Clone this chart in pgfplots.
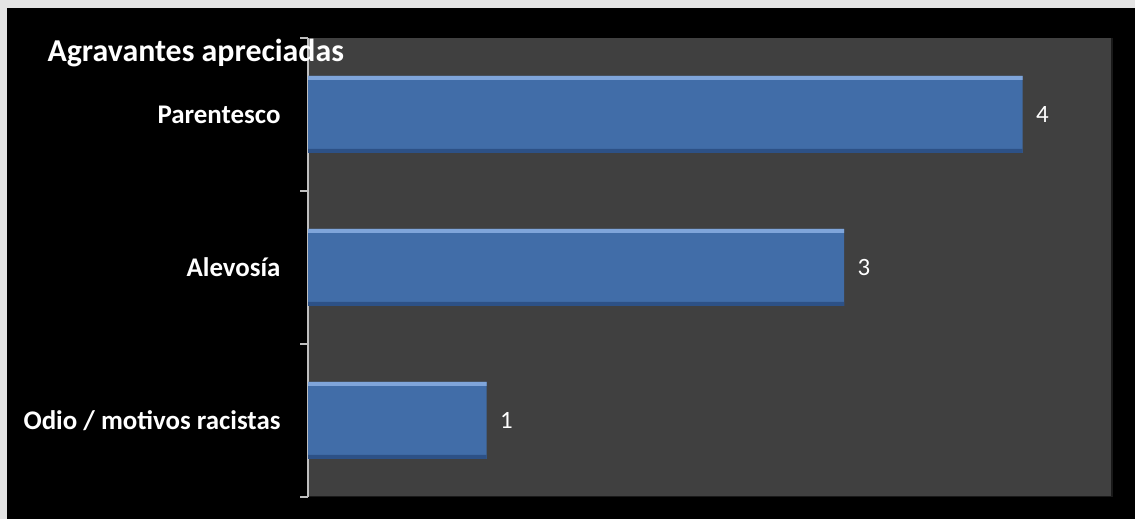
\documentclass[border=0pt]{standalone}
\usepackage{fontspec}
\setmainfont{Carlito}
\usepackage{pgfplots}
\pgfplotsset{compat=1.18}
\definecolor{outergray}{HTML}{E4E4E4}
\definecolor{plotbg}{HTML}{404040}
\definecolor{axisgray}{HTML}{BFBFBF}
\definecolor{barmain}{HTML}{416DA8}
\definecolor{barlight}{HTML}{7FA5DA}
\definecolor{bardark}{HTML}{2D5186}
\begin{document}
\begin{tikzpicture}[x=1bp,y=1bp]
\useasboundingbox (0,0) rectangle (1135,519);
\fill[outergray] (0,0) rectangle (1135,519);
\fill[black] (7,0) rectangle (1135,511);
\fill[plotbg] (308,22) rectangle (1112,481);
\draw[black!60!plotbg, line width=1.5bp] (308,22.5) -- (1112,22.5) -- (1112,481);
\begin{axis}[
  at={(308bp,22bp)}, anchor=south west,
  width=804bp, height=459bp, scale only axis,
  xbar, xmin=0, xmax=4.5, ymin=0.5, ymax=3.5,
  axis x line=none,
  axis y line*=left,
  y axis line style={draw=axisgray, line width=1.2bp, -},
  ytick={1,2,3},
  yticklabels={Odio / motivos racistas, Alevosía, Parentesco},
  ytick pos=left,
  major tick length=0pt,
  extra y ticks={0.5,1.5,2.5,3.5},
  extra y tick labels={,,,},
  extra y tick style={major tick length=8bp, tick align=outside, tick style={draw=axisgray, line width=1.2bp}},
  yticklabel style={font=\fontsize{27}{27}\selectfont\bfseries, text=white, xshift=-24bp},
  /pgf/number format/assume math mode=true,
  clip=false,
]
\addplot[draw=none, fill=barmain, bar width=77bp, bar shift=0pt,
  nodes near coords,
  every node near coord/.append style={font=\fontsize{25}{25}\selectfont, text=white, anchor=west, xshift=10bp}]
  coordinates {(1,1) (3,2) (4,3)};
\addplot[draw=none, fill=barlight, bar width=4bp, bar shift=36.5bp]
  coordinates {(1,1) (3,2) (4,3)};
\addplot[draw=none, fill=bardark, bar width=4bp, bar shift=-36.5bp]
  coordinates {(1,1) (3,2) (4,3)};
\end{axis}
\node[anchor=base west, text=white, font=\fontsize{32}{32}\selectfont\bfseries] at (44,457) {Agravantes apreciadas};
\end{tikzpicture}
\end{document}
